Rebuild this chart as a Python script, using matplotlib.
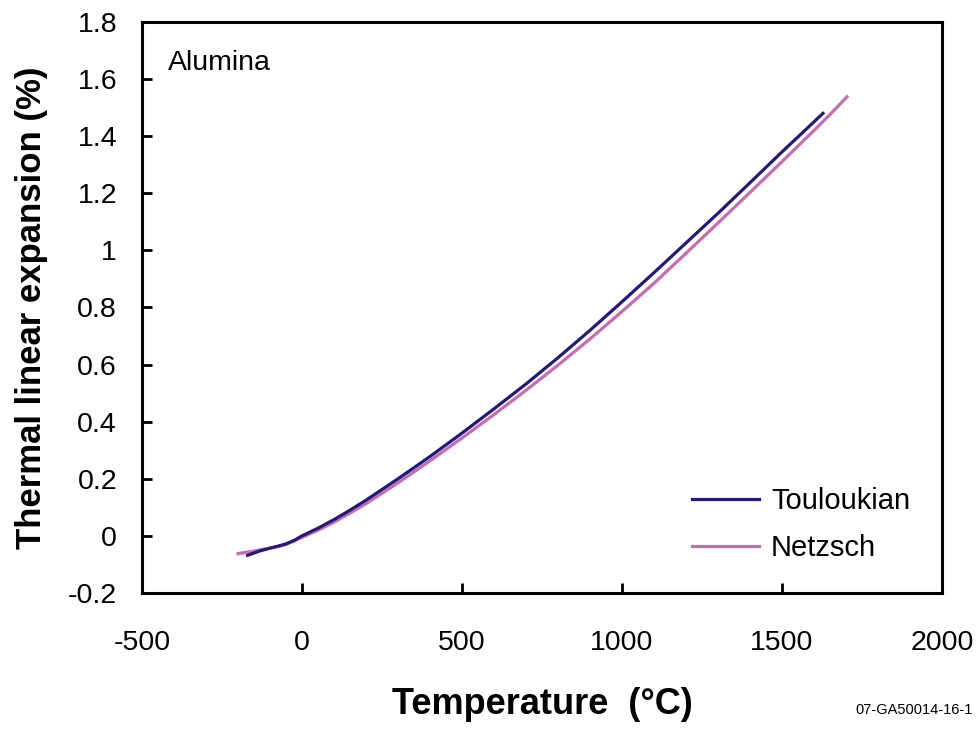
import matplotlib
matplotlib.use('Agg')
from matplotlib import pyplot as plt

plt.rcParams['font.family'] = ['Liberation Sans', 'DejaVu Sans']
plt.rcParams['axes.unicode_minus'] = False

# Touloukian reference curve (temperature in C, expansion in %)
t_toul = [-170, -130, -100, -75, -50, -25, 0, 50, 100, 150, 200, 300, 400, 500,
          600, 700, 800, 900, 1000, 1100, 1200, 1300, 1400, 1500, 1560, 1628]
e_toul = [-0.068, -0.052, -0.043, -0.036, -0.028, -0.016, 0.0, 0.027, 0.057,
          0.09, 0.125, 0.2, 0.278, 0.36, 0.445, 0.532, 0.624, 0.72, 0.82,
          0.922, 1.026, 1.13, 1.237, 1.345, 1.408, 1.48]

# Netzsch measurement
t_netz = [-200, -150, -100, -75, -50, -25, 0, 50, 100, 150, 200, 300, 400, 500,
          600, 700, 800, 900, 1000, 1100, 1200, 1300, 1400, 1500, 1600, 1650, 1703]
e_netz = [-0.062, -0.053, -0.043, -0.037, -0.03, -0.018, -0.005, 0.02, 0.048,
          0.08, 0.113, 0.186, 0.263, 0.343, 0.425, 0.51, 0.598, 0.69, 0.786,
          0.885, 0.99, 1.096, 1.203, 1.311, 1.42, 1.476, 1.538]

xticks = [-500, 0, 500, 1000, 1500, 2000]
yticks = [-0.2, 0, 0.2, 0.4, 0.6, 0.8, 1, 1.2, 1.4, 1.6, 1.8]
ylabels = ['-0.2', '0', '0.2', '0.4', '0.6', '0.8', '1', '1.2', '1.4', '1.6', '1.8']

fig = plt.figure(figsize=(9.78, 7.3), dpi=100)
ax = fig.add_axes([0.1452, 0.1877, 0.818, 0.7822])

ax.plot(t_netz, e_netz, color='#c86cb2', lw=2.3, label='Netzsch', zorder=2)
ax.plot(t_toul, e_toul, color='#25187a', lw=2.3, label='Touloukian', zorder=3)

ax.set_xlim(-500, 2000)
ax.set_ylim(-0.2, 1.8)
ax.set_xticks(xticks)
ax.set_yticks(yticks)
ax.set_yticklabels(ylabels)
ax.tick_params(axis='both', direction='in', length=7, width=2, labelsize=20.5)
ax.tick_params(axis='x', pad=27)
ax.tick_params(axis='y', pad=18)
for sp in ax.spines.values():
    sp.set_linewidth(2.2)

ax.set_xlabel('Temperature  (°C)', fontsize=26, fontweight='bold', labelpad=22)
ax.set_ylabel('Thermal linear expansion (%)', fontsize=25, fontweight='bold', labelpad=14)

ax.text(0.0325, 0.928, 'Alumina', transform=ax.transAxes, fontsize=20.5,
        va='center', ha='left')

h, l = ax.get_legend_handles_labels()
ax.legend(h[::-1], l[::-1], loc='lower right', bbox_to_anchor=(0.993, 0.008),
          frameon=False, fontsize=21, handlelength=2.3, handletextpad=0.4,
          labelspacing=0.65)

fig.text(0.995, 0.018, '07-GA50014-16-1', fontsize=10.5, ha='right', va='bottom')

plt.savefig('out.png', dpi=100)
